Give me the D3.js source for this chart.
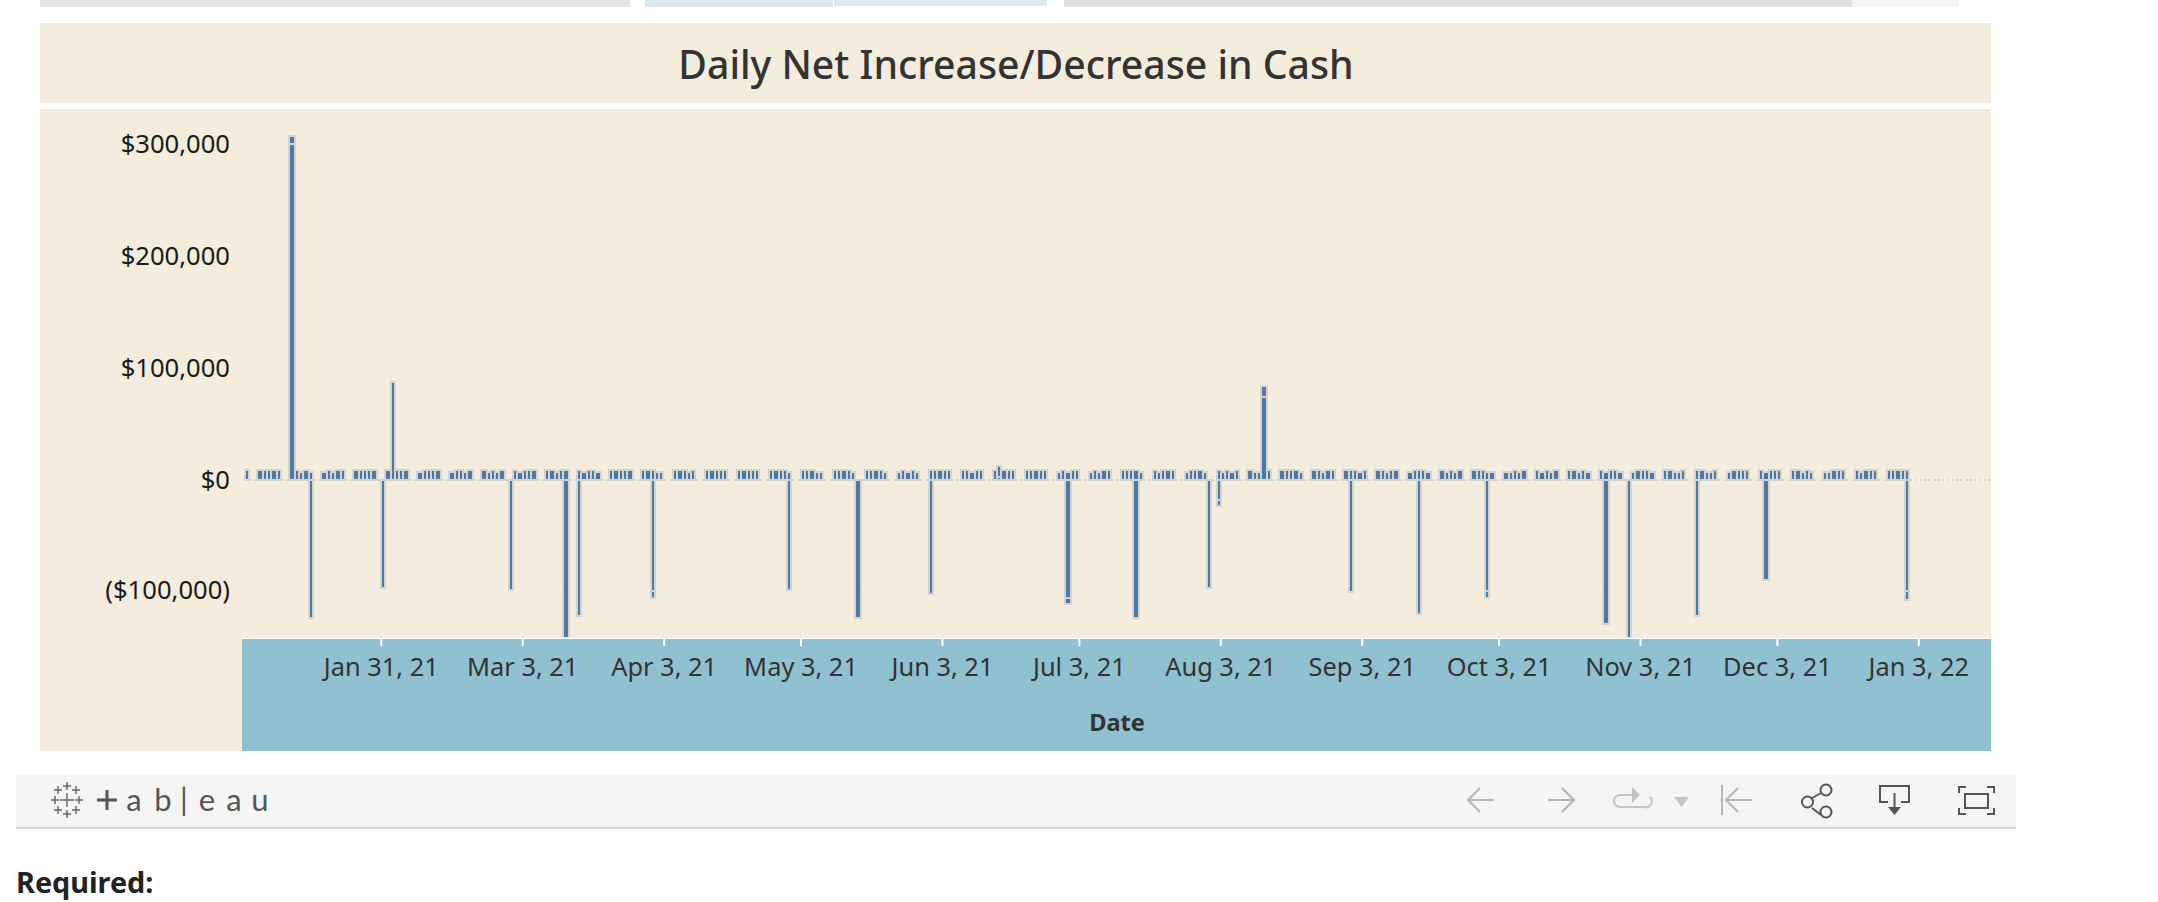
<!DOCTYPE html>
<html><head><meta charset="utf-8">
<script src="https://cdn.jsdelivr.net/npm/d3@7"></script>
<style>
html,body{margin:0;padding:0;background:#fff;overflow:hidden}
svg{display:block}
text{font-family:"Noto Sans",sans-serif}
</style></head><body>
<svg id="c" width="2158" height="902"></svg>
<script>
// ---- data ----
const chartTitle = "Daily Net Increase/Decrease in Cash";
const axisTitle = "Date";
const yTicks = [300000, 200000, 100000, 0, -100000];
const yLabels = ["$300,000", "$200,000", "$100,000", "$0", "($100,000)"];
const xTicks = ["2021-01-31","2021-03-03","2021-04-03","2021-05-03","2021-06-03","2021-07-03","2021-08-03","2021-09-03","2021-10-03","2021-11-03","2021-12-03","2022-01-03"];
const xLabels = ["Jan 31, 21","Mar 3, 21","Apr 3, 21","May 3, 21","Jun 3, 21","Jul 3, 21","Aug 3, 21","Sep 3, 21","Oct 3, 21","Nov 3, 21","Dec 3, 21","Jan 3, 22"];
const firstDay = "2021-01-01", lastDay = "2022-01-18";
const openingFriday = ["2021-01-01", 8000];
const firstMonday = "2021-01-04";
// Mon..Fri daily increases, one row per week
const weeklyIncrease = [
[8000,8000,8000,8000,8000],[0,8000,6000,8000,6000],[6000,8000,6000,8000,8000],[8000,8000,8000,8000,8000],
[8000,0,8000,8000,8000],[6000,8000,8000,8000,8000],[6000,8000,8000,6000,8000],[8000,6000,8000,6000,8000],
[8000,6000,8000,8000,8000],[8000,8000,6000,8000,8000],[8000,6000,8000,8000,6000],[8000,8000,8000,8000,8000],
[8000,8000,8000,6000,6000],[8000,8000,8000,6000,8000],[8000,8000,8000,8000,8000],[8000,8000,8000,8000,8000],
[8000,8000,8000,8000,6000],[8000,8000,8000,6000,6000],[8000,8000,8000,8000,6000],[8000,8000,8000,8000,6000],
[6000,8000,6000,8000,6000],[8000,8000,8000,8000,8000],[8000,8000,6000,8000,8000],[8000,0,8000,8000,8000],
[8000,8000,8000,8000,8000],[6000,8000,6000,8000,8000],[6000,8000,6000,8000,8000],[8000,8000,8000,8000,6000],
[8000,6000,8000,8000,8000],[6000,8000,8000,8000,6000],[8000,6000,8000,6000,8000],[8000,6000,6000,0,8000],
[8000,8000,8000,8000,6000],[8000,8000,6000,8000,8000],[8000,8000,8000,6000,8000],[8000,8000,6000,8000,8000],
[6000,8000,8000,8000,6000],[8000,6000,8000,6000,8000],[8000,8000,8000,6000,6000],[6000,6000,8000,6000,8000],
[8000,6000,8000,6000,8000],[8000,8000,6000,8000,6000],[8000,6000,8000,8000,6000],[6000,8000,8000,8000,6000],
[8000,8000,6000,6000,8000],[8000,8000,6000,6000,8000],[6000,8000,8000,8000,8000],[8000,6000,8000,8000,8000],
[8000,8000,6000,8000,6000],[6000,6000,8000,8000,8000],[8000,6000,8000,8000,8000],[8000,8000,8000,8000,8000]
];
// days with larger increases: segments stacked upward
const largeIncreases = [
["2021-01-11",[300000,6000]],["2021-02-02",[86600]],["2021-06-15",[3000,8000]],["2021-08-12",[74000,9000]]
];
// days with decreases: segments stacked downward
const decreases = [
["2021-01-15",[-124000]],["2021-01-31",[-97000]],["2021-02-28",[-99000]],["2021-03-12",[-145000]],
["2021-03-15",[-122500]],["2021-03-31",[-101000,-5000]],["2021-04-30",[-98500]],["2021-05-15",[-124500]],
["2021-05-31",[-102000]],["2021-06-30",[-107000,-5000]],["2021-07-15",[-124500]],["2021-07-31",[-98000]],
["2021-08-02",[-18000,-4700]],["2021-08-31",[-101000]],["2021-09-15",[-121000]],["2021-09-30",[-101000,-5000]],
["2021-10-26",[-130000]],["2021-10-31",[-145000]],["2021-11-15",[-122700]],["2021-11-30",[-90000]],
["2021-12-31",[-101000,-7000]]
];
// ---- build ----
const DAY = 864e5, parse = s => new Date(s + "T00:00:00Z");
const svg = d3.select("#c");
const beige = "#f4ecdc", band = "#8fc1d1", blue = "#4e79a7", halo = "#d4d3cf", grid = "#f0efec";
const L = 242, R = 1992, T = 109, B = 638;

// strips cut off at the top of the page
const topBoxes = [[40,630,7,"#e4e4e4"],[645,833,7,"#dceaf0"],[834,1047,6,"#dceaf0"],[1064,1852,7,"#e0e0e0"],[1852,1959,7,"#f5f5f5"]];
svg.selectAll("rect.tb").data(topBoxes).join("rect").attr("x",d=>d[0]).attr("y",0).attr("width",d=>d[1]-d[0]).attr("height",d=>d[2]).attr("fill",d=>d[3]);

// panels
svg.append("rect").attr("x",40).attr("y",23).attr("width",1951).attr("height",80).attr("fill",beige);
svg.append("rect").attr("x",40).attr("y",109).attr("width",1951).attr("height",642).attr("fill",beige);
svg.append("rect").attr("x",L).attr("y",B+1).attr("width",R-L-1).attr("height",751-B-1).attr("fill",band);
svg.append("text").attr("x",1016).attr("y",79).attr("text-anchor","middle").attr("font-size",39.2).attr("font-weight",500).attr("fill","#333").text(chartTitle);

// scales
const x = d3.scaleUtc().domain([parse(firstDay),parse(lastDay)]).range([246.2,246.2+4.5625*382]);
const y = d3.scaleLinear().domain([-100000,0,300000]).range([590,480,144]);
const snapX = d => Math.floor(x(d)/2)*2;
const snapY = v => Math.floor(v/2)*2+1;
const barW = d => Math.max(2, snapX(new Date(+d+DAY))-snapX(d)-2);

// grid
svg.append("g").selectAll("rect").data(yTicks).join("rect")
  .attr("x",234).attr("y",d=>y(d)-1).attr("width",R-234-1).attr("height",2).attr("fill",grid);
svg.append("rect").attr("x",L).attr("y",T).attr("width",2).attr("height",B-T).attr("fill",grid);

// day table
const days = new Map();
for (let t=+parse(firstDay); t<=+parse(lastDay); t+=DAY) days.set(t,{date:new Date(t),up:[],down:[]});
days.get(+parse(openingFriday[0])).up=[openingFriday[1]];
weeklyIncrease.forEach((w,i)=>w.forEach((v,j)=>{ if(v) days.get(+parse(firstMonday)+(i*7+j)*DAY).up=[v]; }));
largeIncreases.forEach(([d,s])=>days.get(+parse(d)).up=s);
decreases.forEach(([d,s])=>days.get(+parse(d)).down=s);
const rows = [...days.values()];

const clipId="plotclip";
svg.append("clipPath").attr("id",clipId).append("rect").attr("x",L).attr("y",T).attr("width",R-L).attr("height",B-1-T);
const plot = svg.append("g").attr("clip-path",`url(#${clipId})`);

// zero-value days and halos
const ext = r => [d3.sum(r.up), d3.sum(r.down)];
const haloG = plot.append("g"), blueG = plot.append("g");
haloG.selectAll("rect").data(rows).join("rect").attr("fill",halo)
  .attr("x",r=>{const e=ext(r);return (e[0]||e[1])?snapX(r.date)-2:snapX(r.date);})
  .attr("width",r=>{const e=ext(r);return (e[0]||e[1])?barW(r.date)+4:2;})
  .attr("y",r=>{const e=ext(r);return e[0]?snapY(y(e[0]))-2:479;})
  .attr("height",r=>{const e=ext(r);
     const top=e[0]?snapY(y(e[0]))-2:479;
     const bot=e[1]?snapY(y(e[1]))+2:481;
     return bot-top;});
// blue segments
const segs=[];
rows.forEach(r=>{
  [r.up,r.down].forEach((list,sideIdx)=>{
    let acc=0;
    list.forEach((v,i)=>{
      const a=acc,b=acc+v; acc=b;
      const last=i===list.length-1;
      let ya,yb; // ya inner, yb outer
      if(sideIdx===0){ ya=i===0?479:Math.round(y(a))-1; yb=last?snapY(y(b)):Math.round(y(b))+1; segs.push({d:r.date,t:yb,h:ya-yb}); }
      else { ya=i===0?481:Math.round(y(a))+1; yb=last?snapY(y(b)):Math.round(y(b))-1; segs.push({d:r.date,t:ya,h:yb-ya}); }
    });
  });
});
blueG.selectAll("rect").data(segs).join("rect").attr("fill",blue)
  .attr("x",s=>snapX(s.d)).attr("width",s=>barW(s.d)).attr("y",s=>s.t).attr("height",s=>Math.max(0,s.h));

// axes
const yAxis = d3.axisLeft(y).tickValues(yTicks).tickSize(0).tickPadding(0).tickFormat((d,i)=>yLabels[i]);
const yG = svg.append("g").attr("transform","translate(230,0)").call(yAxis);
yG.select(".domain").remove();
yG.selectAll("text").attr("font-size",25.6).attr("fill","#1a1a1a").style("font-family",'"Noto Sans",sans-serif');

const xDates = xTicks.map(parse);
const xAxis = d3.axisBottom(x).tickValues(xDates).tickSize(8).tickPadding(0).tickFormat((d,i)=>xLabels[i]);
const xG = svg.append("g").attr("transform",`translate(-2.3,${B})`).call(xAxis);
xG.select(".domain").remove();
xG.selectAll("line").attr("stroke","#fff").attr("stroke-width",2);
xG.selectAll("text").attr("font-size",25.4).attr("fill","#333").attr("dy",0).attr("y",38).style("font-family",'"Noto Sans",sans-serif');
svg.append("rect").attr("x",L).attr("y",B).attr("width",R-L-1).attr("height",1).attr("fill","#fff");
svg.append("text").attr("x",1117).attr("y",731).attr("text-anchor","middle").attr("font-size",23.6).attr("font-weight",700).attr("fill","#333").text(axisTitle);

// toolbar
svg.append("rect").attr("x",16).attr("y",775).attr("width",2000).attr("height",52).attr("fill","#f5f5f5");
svg.append("rect").attr("x",16).attr("y",827).attr("width",2000).attr("height",2).attr("fill","#d4d4d4");
const crosses=[[67,786,4],[58,790,4],[76,790,4],[67,800,7],[55,800,4],[79,800,4],[58,810,4],[76,810,4],[67,814,4]];
svg.append("g").attr("stroke","#666").attr("stroke-width",1.4).selectAll("path").data(crosses).join("path")
  .attr("d",c=>`M${c[0]-c[2]},${c[1]}H${c[0]+c[2]}M${c[0]},${c[1]-c[2]}V${c[1]+c[2]}`);
svg.append("path").attr("d","M97,800H117M107,790V810").attr("stroke","#555").attr("stroke-width",3);
const logoLetters=["a","b","|","e","a","u"], logoX=[134,163,184,207,234,260];
const lt=svg.append("text").attr("y",811).attr("font-size",31).attr("text-anchor","middle").attr("fill","#555").style("font-family","Lato,sans-serif");
logoLetters.forEach((c,i)=>lt.append("tspan").attr("x",logoX[i]).text(c));

const icons=[
 ["M1494,800H1468M1480,788L1468,800L1480,812","#b5b5b5"],
 ["M1548,800H1574M1562,788L1574,800L1562,812","#b5b5b5"],
 ["M1632,795H1620a6,6 0 0 0 0,12H1644a6,6 0 0 0 6,-10","#c4c4c4"],
 ["M1722,785V815M1752,800H1726M1738,788L1726,800L1738,812","#b5b5b5"],
 ["M1812,798L1821,793M1812,808L1821,815","#555"],
 ["M1888,802H1880V786H1909V802H1901M1894.5,793V808","#555"],
 ["M1959,793V787H1966M1987,787H1994V793M1994,808V814H1987M1966,814H1959V808","#555"],
 ["M1965,794H1988V808H1965Z","#555"]
];
svg.append("g").attr("fill","none").attr("stroke-width",2).selectAll("path").data(icons).join("path").attr("d",d=>d[0]).attr("stroke",d=>d[1]);
const shareDots=[[1826,790],[1807.5,802],[1826,812]];
svg.append("g").attr("fill","none").attr("stroke","#555").attr("stroke-width",2).selectAll("circle").data(shareDots).join("circle").attr("cx",d=>d[0]).attr("cy",d=>d[1]).attr("r",5.5);
svg.append("path").attr("d","M1674,797H1689L1681.5,807Z").attr("fill","#c4c4c4");
svg.append("path").attr("d","M1632,787L1640,795L1632,803Z").attr("fill","#c4c4c4");
svg.append("path").attr("d","M1888,807H1901L1894.5,815Z").attr("fill","#555");

svg.append("text").attr("x",16).attr("y",893).attr("font-size",28.8).attr("font-weight",700).attr("fill","#222").text("Required:");
</script>
</body></html>
